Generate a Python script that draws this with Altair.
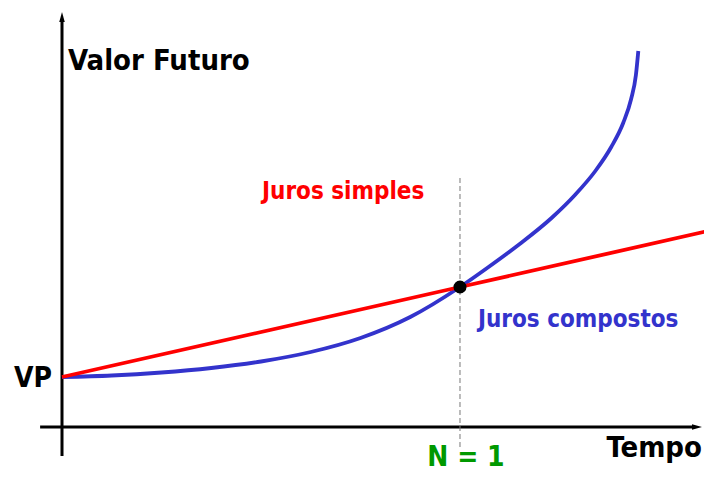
import altair as alt
import pandas as pd

# Simple interest line (tempo, valor)
simple_t = [0.0, 1.0, 1.64]
simple_v = [1.0, 2.8, 3.95]

# Compound interest curve
comp_t = [0.0, 0.125, 0.25, 0.375, 0.5, 0.625, 0.75, 0.875, 1.0, 1.07, 1.15, 1.23, 1.29, 1.34, 1.38, 1.41, 1.43, 1.442, 1.448]
comp_v = [1.0, 1.03, 1.09, 1.18, 1.31, 1.50, 1.78, 2.20, 2.8, 3.19, 3.66, 4.18, 4.65, 5.12, 5.6, 6.08, 6.56, 7.04, 7.52]

# Intersection point N = 1
point_t = [1.0]
point_v = [2.8]

# Labels
label_text = ["Valor Futuro", "VP", "Juros simples", "Juros compostos", "Tempo", "N = 1"]
label_t = [0.015, -0.025, 0.5025, 1.045, 1.608, 1.015]
label_v = [7.14, 0.8, 4.56, 2.0, -0.6, -0.9]
label_color = ["#000000", "#000000", "#ff0000", "#3333cc", "#000000", "#009900"]
label_size = [29, 28, 24, 24, 29, 28]
label_align = ["left", "right", "left", "left", "right", "center"]
label_base = ["alphabetic", "alphabetic", "alphabetic", "alphabetic", "alphabetic", "bottom"]

FONT = "DejaVu Sans Condensed"

xs = alt.Scale(domain=[-0.13568, 1.61307], nice=False, zero=False)
ys = alt.Scale(domain=[-0.9, 8.38], nice=False, zero=False)

simple_df = pd.DataFrame({"t": simple_t, "v": simple_v})
comp_df = pd.DataFrame({"t": comp_t, "v": comp_v})
point_df = pd.DataFrame({"t": point_t, "v": point_v})

layers = []

# axes
xaxis_df = pd.DataFrame({"t": [-0.055], "t2": [1.585], "v": [0.0]})
yaxis_df = pd.DataFrame({"t": [0.0], "v": [-0.58], "v2": [8.1]})
layers.append(alt.Chart(xaxis_df).mark_rule(color="black", strokeWidth=3).encode(
    x=alt.X("t:Q", scale=xs, axis=None), x2="t2:Q", y=alt.Y("v:Q", scale=ys, axis=None)))
layers.append(alt.Chart(yaxis_df).mark_rule(color="black", strokeWidth=3).encode(
    x=alt.X("t:Q", scale=xs, axis=None), y=alt.Y("v:Q", scale=ys, axis=None), y2="v2:Q"))

arrow_up = pd.DataFrame({"t": [0.0], "v": [8.2]})
arrow_right = pd.DataFrame({"t": [1.5955], "v": [0.0]})
layers.append(alt.Chart(arrow_up).mark_point(
    shape="M0,-1L0.55,1L-0.55,1Z", filled=True, color="black", opacity=1, size=100).encode(
    x=alt.X("t:Q", scale=xs, axis=None), y=alt.Y("v:Q", scale=ys, axis=None)))
layers.append(alt.Chart(arrow_right).mark_point(
    shape="M1,0L-1,-0.55L-1,0.55Z", filled=True, color="black", opacity=1, size=100).encode(
    x=alt.X("t:Q", scale=xs, axis=None), y=alt.Y("v:Q", scale=ys, axis=None)))

# dashed guide at N = 1
dash_df = pd.DataFrame({"t": [1.0], "v": [-0.4], "v2": [5.04]})
layers.append(alt.Chart(dash_df).mark_rule(color="#777777", strokeWidth=1, strokeDash=[5, 3]).encode(
    x=alt.X("t:Q", scale=xs, axis=None), y=alt.Y("v:Q", scale=ys, axis=None), y2="v2:Q"))

# curves
layers.append(alt.Chart(comp_df).mark_line(color="#3333cc", strokeWidth=3.8, interpolate="monotone", clip=True).encode(
    x=alt.X("t:Q", scale=xs, axis=None), y=alt.Y("v:Q", scale=ys, axis=None)))
layers.append(alt.Chart(simple_df).mark_line(color="#ff0000", strokeWidth=3.8, clip=True).encode(
    x=alt.X("t:Q", scale=xs, axis=None), y=alt.Y("v:Q", scale=ys, axis=None)))

layers.append(alt.Chart(point_df).mark_circle(color="black", opacity=1, size=170).encode(
    x=alt.X("t:Q", scale=xs, axis=None), y=alt.Y("v:Q", scale=ys, axis=None)))

for txt, t, v, c, s, a, b in zip(label_text, label_t, label_v, label_color, label_size, label_align, label_base):
    df = pd.DataFrame({"t": [t], "v": [v], "label": [txt]})
    layers.append(alt.Chart(df).mark_text(
        font=FONT, fontWeight="bold", fontSize=s, color=c, align=a, baseline=b).encode(
        x=alt.X("t:Q", scale=xs, axis=None), y=alt.Y("v:Q", scale=ys, axis=None), text="label:N"))

chart = alt.layer(*layers).properties(
    width=696, height=464, padding=0, background="white",
    autosize=alt.AutoSizeParams(type="none")
).configure_view(stroke=None)

chart.save("out.html", embed_options={"renderer": "svg", "actions": False})
